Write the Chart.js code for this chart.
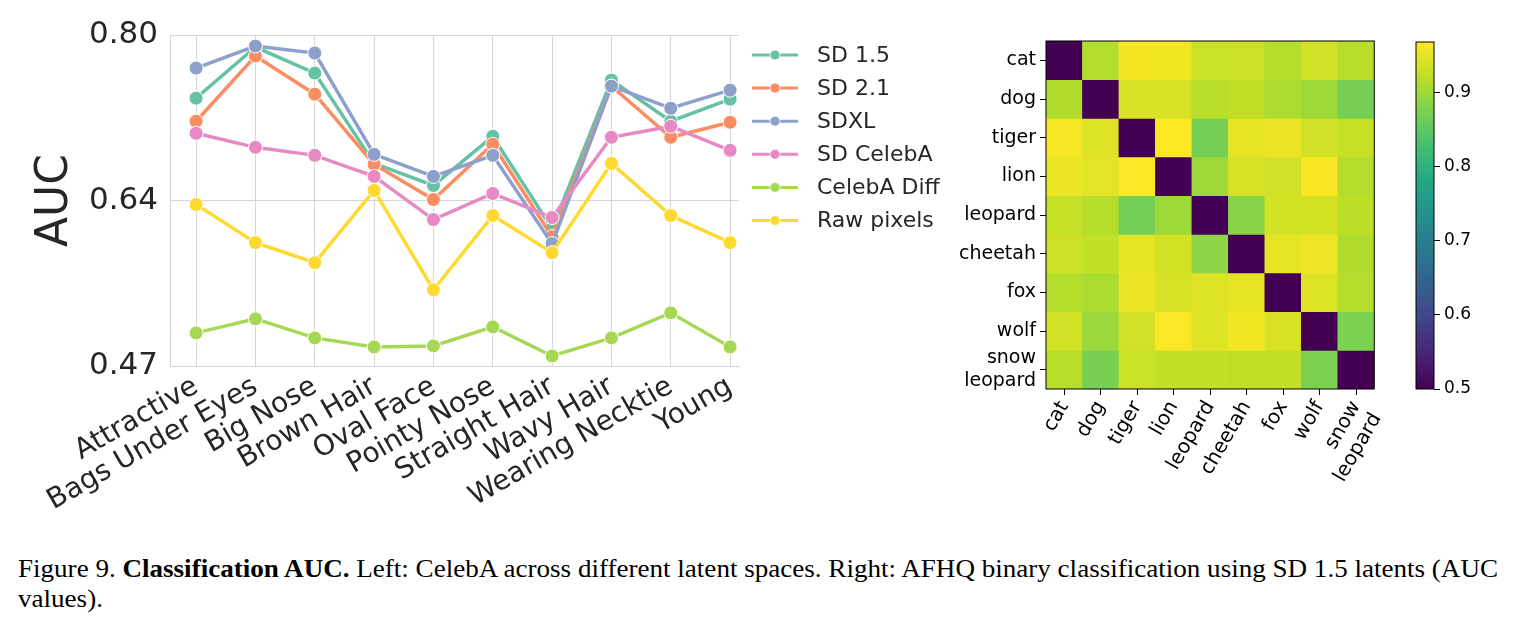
<!DOCTYPE html>
<html>
<head>
<meta charset="utf-8">
<script src="https://cdn.jsdelivr.net/npm/chart.js@4.4.1/dist/chart.umd.min.js"></script>
<style>
    body { margin: 0; background: #fff; width: 1516px; height: 633px; overflow: hidden; position: relative; }
    #lineWrap { position: absolute; left: 0; top: 0; width: 960px; height: 520px; }
    #heatWrap { position: absolute; left: 930px; top: 0; width: 470px; height: 520px; }
    #barWrap { position: absolute; left: 1400px; top: 0; width: 116px; height: 520px; }
    .caption { position: absolute; left: 18px; font-family: "Liberation Serif", serif; font-size: 26px; line-height: 26px; color: #000; white-space: nowrap; transform-origin: 0 0; }
</style>
</head>
<body>
<div id="lineWrap"><canvas id="lineChart"></canvas></div>
<div id="heatWrap"><canvas id="heatChart"></canvas></div>
<div id="barWrap"><canvas id="colorBar"></canvas></div>
<div class="caption" id="cap1" style="top:556px">Figure 9. <b>Classification AUC.</b> Left: CelebA across different latent spaces. Right: AFHQ binary classification using SD 1.5 latents (AUC</div>
<div class="caption" id="cap2" style="top:586px">values).</div>

<script>
// ---- Left: CelebA AUC per attribute ----
const attributes = ["Attractive", "Bags Under Eyes", "Big Nose", "Brown Hair", "Oval Face",
    "Pointy Nose", "Straight Hair", "Wavy Hair", "Wearing Necktie", "Young"];

const sd15 = [0.737, 0.788, 0.762, 0.672, 0.650, 0.699, 0.607, 0.755, 0.714, 0.736];
const sd21 = [0.714, 0.779, 0.741, 0.671, 0.636, 0.691, 0.599, 0.749, 0.698, 0.713];
const sdxl = [0.767, 0.789, 0.782, 0.681, 0.659, 0.680, 0.592, 0.749, 0.727, 0.745];
const sdCelebA = [0.702, 0.688, 0.680, 0.659, 0.616, 0.642, 0.618, 0.698, 0.709, 0.685];
const celebADiff = [0.503, 0.517, 0.498, 0.489, 0.490, 0.509, 0.480, 0.498, 0.523, 0.489];
const rawPixels = [0.631, 0.593, 0.573, 0.645, 0.546, 0.620, 0.583, 0.672, 0.620, 0.593];

const seriesNames = ["SD 1.5", "SD 2.1", "SDXL", "SD CelebA", "CelebA Diff", "Raw pixels"];
const seriesValues = [sd15, sd21, sdxl, sdCelebA, celebADiff, rawPixels];
const seriesColors = ["#66c2a5", "#fc8d62", "#8da0cb", "#e78ac3", "#a6d854", "#ffd92f"];

const aucTicks = [0.47, 0.635, 0.80];
const aucTickLabels = ["0.47", "0.64", "0.80"];

// ---- Right: AFHQ pairwise AUC ----
const animals = ["cat", "dog", "tiger", "lion", "leopard", "cheetah", "fox", "wolf", ["snow", "leopard"]];
const aucCat     = [0.500, 0.913, 0.962, 0.960, 0.930, 0.932, 0.915, 0.935, 0.918];
const aucDog     = [0.912, 0.500, 0.942, 0.940, 0.918, 0.922, 0.910, 0.900, 0.872];
const aucTiger   = [0.963, 0.945, 0.500, 0.968, 0.870, 0.950, 0.955, 0.935, 0.928];
const aucLion    = [0.955, 0.948, 0.966, 0.500, 0.900, 0.940, 0.935, 0.965, 0.915];
const aucLeopard = [0.928, 0.915, 0.870, 0.900, 0.500, 0.885, 0.938, 0.938, 0.920];
const aucCheetah = [0.932, 0.925, 0.950, 0.938, 0.888, 0.500, 0.950, 0.958, 0.912];
const aucFox     = [0.915, 0.910, 0.955, 0.940, 0.945, 0.950, 0.500, 0.945, 0.915];
const aucWolf    = [0.935, 0.898, 0.935, 0.966, 0.945, 0.960, 0.940, 0.500, 0.875];
const aucSnow    = [0.918, 0.872, 0.930, 0.925, 0.925, 0.922, 0.925, 0.876, 0.500];
const aucRows = [aucCat, aucDog, aucTiger, aucLion, aucLeopard, aucCheetah, aucFox, aucWolf, aucSnow];

const colorbarTicks = [0.5, 0.6, 0.7, 0.8, 0.9];

const vmin = 0.5;
const vmax = Math.max(...aucRows.flat());

// viridis colormap stops
const viridisStops = ["#440154", "#482475", "#414487", "#355f8d", "#2a788e", "#21918c",
    "#22a884", "#44bf70", "#7ad151", "#bddf26", "#fde725"];

function hexToRgb(h) {
    return [parseInt(h.slice(1, 3), 16), parseInt(h.slice(3, 5), 16), parseInt(h.slice(5, 7), 16)];
}

function viridis(v) {
    let t = (v - vmin) / (vmax - vmin);
    t = Math.min(1, Math.max(0, t));
    const pos = t * (viridisStops.length - 1);
    const i = Math.min(Math.floor(pos), viridisStops.length - 2);
    const f = pos - i;
    const a = hexToRgb(viridisStops[i]);
    const b = hexToRgb(viridisStops[i + 1]);
    const c = a.map((x, k) => Math.round(x + (b[k] - x) * f));
    return `rgb(${c[0]},${c[1]},${c[2]})`;
}

const TEXT = "#262626";
const GRID = "#d6d6d6";

// Legend drawn next to the line plot (line + marker like seaborn)
const seriesLegend = {
    id: "seriesLegend",
    afterDraw(chart) {
        const ctx = chart.ctx;
        const x0 = chart.chartArea.right + 13;
        ctx.save();
        ctx.font = "22px 'DejaVu Sans'";
        ctx.textBaseline = "middle";
        seriesNames.forEach((name, i) => {
            const y = chart.chartArea.top + 20 + i * 33.1;
            ctx.strokeStyle = seriesColors[i];
            ctx.lineWidth = 3;
            ctx.beginPath();
            ctx.moveTo(x0, y);
            ctx.lineTo(x0 + 46, y);
            ctx.stroke();
            ctx.fillStyle = seriesColors[i];
            ctx.beginPath();
            ctx.arc(x0 + 23, y, 5, 0, Math.PI * 2);
            ctx.fill();
            ctx.strokeStyle = "#fff";
            ctx.lineWidth = 0.8;
            ctx.stroke();
            ctx.fillStyle = TEXT;
            ctx.fillText(name, x0 + 65, y + 1);
        });
        ctx.restore();
    }
};

new Chart(document.getElementById("lineChart"), {
    type: "line",
    data: {
        datasets: seriesValues.map((vals, i) => ({
            label: seriesNames[i],
            data: vals.map((v, k) => ({ x: k, y: v })),
            borderColor: seriesColors[i],
            backgroundColor: seriesColors[i],
            pointBackgroundColor: seriesColors[i],
            pointBorderColor: "#fff",
            pointBorderWidth: 1,
            pointRadius: 7,
            borderWidth: 3.5,
            order: seriesNames.length - i
        }))
    },
    options: {
        responsive: true,
        maintainAspectRatio: false,
        animation: false,
        layout: { padding: { top: 35, right: 221, left: 0, bottom: 0 } },
        plugins: { legend: { display: false }, tooltip: { enabled: false } },
        scales: {
            x: {
                type: "linear",
                min: -0.44,
                max: 9.15,
                afterBuildTicks: s => { s.ticks = attributes.map((_, i) => ({ value: i })); },
                afterFit: s => { s.height = 154; },
                ticks: {
                    autoSkip: false,
                    minRotation: 30,
                    maxRotation: 30,
                    padding: 4,
                    color: TEXT,
                    font: { family: "DejaVu Sans", size: 28 },
                    callback: (v, i) => attributes[i]
                },
                grid: { color: GRID, lineWidth: 1, drawTicks: false },
                border: { color: GRID }
            },
            y: {
                min: 0.47,
                max: 0.80,
                afterBuildTicks: s => { s.ticks = aucTicks.map(v => ({ value: v })); },
                afterFit: s => { s.width = 170; },
                ticks: {
                    padding: 12,
                    color: TEXT,
                    font: { family: "DejaVu Sans", size: 31 },
                    callback: (v, i) => aucTickLabels[i]
                },
                grid: { color: GRID, lineWidth: 1, drawTicks: false },
                border: { color: GRID },
                title: {
                    display: true,
                    text: "AUC",
                    color: TEXT,
                    font: { family: "DejaVu Sans", size: 44 },
                    padding: { top: 29, bottom: 0 }
                }
            }
        }
    },
    plugins: [seriesLegend]
});

// black frame around an axes area
const frameBox = {
    id: "frameBox",
    afterDraw(chart) {
        const a = chart.chartArea;
        const ctx = chart.ctx;
        ctx.save();
        ctx.strokeStyle = "#000";
        ctx.lineWidth = 1;
        ctx.strokeRect(a.left, a.top, a.right - a.left, a.bottom - a.top);
        ctx.restore();
    }
};

new Chart(document.getElementById("heatChart"), {
    type: "bar",
    data: {
        labels: animals,
        datasets: aucRows.map((row, r) => ({
            data: row.map(() => [r, r + 1]),
            backgroundColor: row.map(viridis),
            borderWidth: 0,
            barPercentage: 1,
            categoryPercentage: 1,
            grouped: false
        }))
    },
    options: {
        responsive: true,
        maintainAspectRatio: false,
        animation: false,
        layout: { padding: { top: 41, right: 7, left: 0, bottom: 0 } },
        plugins: { legend: { display: false }, tooltip: { enabled: false } },
        scales: {
            x: {
                afterFit: s => { s.height = 131; },
                ticks: {
                    autoSkip: false,
                    minRotation: 60,
                    maxRotation: 60,
                    padding: 2,
                    color: "#000",
                    font: { family: "DejaVu Sans", size: 20 }
                },
                grid: { offset: false, drawOnChartArea: false, drawTicks: true, tickLength: 6, color: "#000" },
                border: { display: false }
            },
            y: {
                min: 0,
                max: 9,
                reverse: true,
                afterBuildTicks: s => { s.ticks = animals.map((_, i) => ({ value: i + 0.5 })); },
                afterFit: s => { s.width = 116; },
                ticks: {
                    autoSkip: false,
                    padding: 4,
                    color: "#000",
                    font: { family: "DejaVu Sans", size: 19 },
                    callback: (v, i) => animals[i]
                },
                grid: { drawOnChartArea: false, drawTicks: true, tickLength: 6, color: "#000" },
                border: { display: false }
            }
        }
    },
    plugins: [frameBox]
});

// colour bar: gradient painted into the axes area, ticks from a linear scale
const gradientFill = {
    id: "gradientFill",
    beforeDatasetsDraw(chart) {
        const a = chart.chartArea;
        const ctx = chart.ctx;
        const yScale = chart.scales.y;
        const g = ctx.createLinearGradient(0, yScale.getPixelForValue(vmin), 0, yScale.getPixelForValue(vmax));
        viridisStops.forEach((c, i) => g.addColorStop(i / (viridisStops.length - 1), c));
        ctx.save();
        ctx.fillStyle = g;
        ctx.fillRect(a.left, a.top, a.right - a.left, a.bottom - a.top);
        ctx.restore();
    }
};

new Chart(document.getElementById("colorBar"), {
    type: "bar",
    data: { labels: [""], datasets: [] },
    options: {
        responsive: true,
        maintainAspectRatio: false,
        animation: false,
        layout: { padding: { top: 42, left: 16, right: 0, bottom: 131 } },
        plugins: { legend: { display: false }, tooltip: { enabled: false } },
        scales: {
            x: { display: false },
            y: {
                position: "right",
                min: vmin,
                max: vmax,
                afterBuildTicks: s => { s.ticks = colorbarTicks.map(v => ({ value: v })); },
                afterFit: s => { s.width = 82; },
                ticks: {
                    padding: 4,
                    color: "#000",
                    font: { family: "DejaVu Sans", size: 17 },
                    callback: v => v.toFixed(1)
                },
                grid: { drawOnChartArea: false, drawTicks: true, tickLength: 6, color: "#000" },
                border: { display: false }
            }
        }
    },
    plugins: [gradientFill, frameBox]
});

// stretch caption line to the measured figure width
const cap1 = document.getElementById("cap1");
const capScale = 1480 / cap1.getBoundingClientRect().width;
cap1.style.transform = `scaleX(${capScale})`;
document.getElementById("cap2").style.transform = `scaleX(${capScale})`;
</script>
</body>
</html>
